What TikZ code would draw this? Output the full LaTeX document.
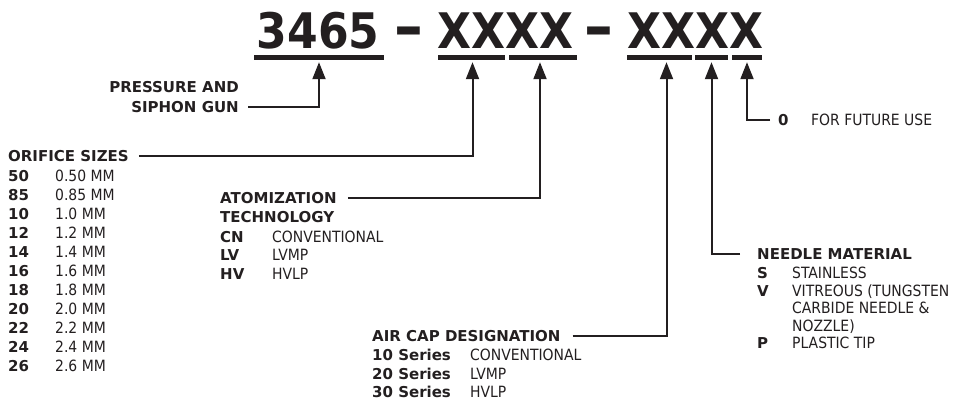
\documentclass[tikz,border=0pt]{standalone}
\usepackage{fontspec}
\setmainfont{DejaVu Sans Condensed}[BoldFont={DejaVu Sans Bold}]
\newfontfamily\ttlfont{DejaVu Sans Condensed}
\usepackage{xcolor}
\usetikzlibrary{arrows.meta}
\definecolor{ink}{RGB}{35,31,32}

\begin{document}
\begin{tikzpicture}[
  x=1pt, y=-1pt,
  every node/.style={inner sep=0pt, text=ink},
  ttl/.style={font=\ttlfont\bfseries\fontsize{49}{49}\selectfont, anchor=base},
  sep/.style={font=\ttlfont\bfseries\fontsize{64}{64}\selectfont, anchor=base},
  uline/.style={fill=ink, minimum height=5pt},
  hd/.style={font=\bfseries\fontsize{15}{19}\selectfont, anchor=base west},
  code/.style={font=\bfseries\fontsize{15}{19}\selectfont, anchor=base west},
  val/.style={font=\fontsize{15.5}{19}\selectfont, anchor=base west},
  arr/.style={draw=ink, line width=2pt, -{Triangle[length=17pt,width=13pt]}, shorten >=2pt},
]
\useasboundingbox (0,0) rectangle (958,400);

% part number
\node[ttl] (num) at (318,48) {3465};
\node[sep] (d1) at (409,48) {–};
\node[ttl] (grpA) at (505,48) {XXXX};
\node[sep] (d2) at (599,48) {–};
\node[ttl] (grpB) at (695,48) {XXXX};

% underlines
\node[uline, minimum width=130pt] (u1) at (319,57.5) {};
\node[uline, minimum width=67pt] (u2) at (471.5,57.5) {};
\node[uline, minimum width=68pt] (u3) at (543,57.5) {};
\node[uline, minimum width=65pt] (u4) at (659.5,57.5) {};
\node[uline, minimum width=33pt] (u5) at (711.5,57.5) {};
\node[uline, minimum width=30pt] (u6) at (747,57.5) {};

% pressure and siphon gun
\node[hd, anchor=base east] (gun1) at (239,92.5) {PRESSURE AND};
\node[hd, anchor=base east] (gun2) at (239,112.5) {SIPHON GUN};

% orifice sizes
\node[hd] (ori) at (8,161.5) {ORIFICE SIZES};
\foreach \c/\v [count=\i from 0] in {50/0.50 MM, 85/0.85 MM, 10/1.0 MM, 12/1.2 MM,
    14/1.4 MM, 16/1.6 MM, 18/1.8 MM, 20/2.0 MM, 22/2.2 MM, 24/2.4 MM, 26/2.6 MM}{
  \node[code] (ori-c\i) at (8,181.5+19*\i) {\c};
  \node[val] (ori-v\i) at (55,181.5+19*\i) {\v};
}

% atomization technology
\node[hd] (ato) at (220,203.5) {ATOMIZATION};
\node[hd] (ato2) at (220,222.5) {TECHNOLOGY};
\foreach \c/\v [count=\i from 0] in {CN/CONVENTIONAL, LV/LVMP, HV/HVLP}{
  \node[code] (ato-c\i) at (220,242+18.5*\i) {\c};
  \node[val] (ato-v\i) at (272,242+18.5*\i) {\v};
}

% air cap designation
\node[hd] (air) at (372,341.5) {AIR CAP DESIGNATION};
\foreach \c/\v [count=\i from 0] in {10/CONVENTIONAL, 20/LVMP, 30/HVLP}{
  \node[code] (air-c\i) at (372,360.5+18.5*\i) {\c{} Series};
  \node[val] (air-v\i) at (470,360.5+18.5*\i) {\v};
}

% needle material
\node[hd] (ndl) at (757,259.5) {NEEDLE MATERIAL};
\node[code] (ndl-s) at (757,278.5) {S};
\node[val] (ndl-sv) at (792,278.5) {STAINLESS};
\node[code] (ndl-v) at (757,296) {V};
\node[val] (ndl-vv1) at (792,296) {VITREOUS (TUNGSTEN};
\node[val] (ndl-vv2) at (792,313.5) {CARBIDE NEEDLE \&};
\node[val] (ndl-vv3) at (792,331) {NOZZLE)};
\node[code] (ndl-p) at (757,348.5) {P};
\node[val] (ndl-pv) at (792,348.5) {PLASTIC TIP};

% future use
\node[code] (fut) at (778,125.5) {0};
\node[val] (fut-v) at (811,125.5) {FOR FUTURE USE};

% leaders
\draw[arr, shorten <=9pt] (gun2.east) -| (u1.south);
\draw[arr, shorten <=10pt] (ori.east) -| ([xshift=1pt]u2.south);
\draw[arr, shorten <=11pt] (ato.east) -| ([xshift=-3pt]u3.south);
\draw[arr, shorten <=12pt] (air.east) -| ([xshift=7pt]u4.south);
\draw[arr, shorten <=17pt] (ndl.west) -| (u5.south);
\draw[arr, shorten <=8pt] (fut.west) -| (u6.south);
\end{tikzpicture}
\end{document}
